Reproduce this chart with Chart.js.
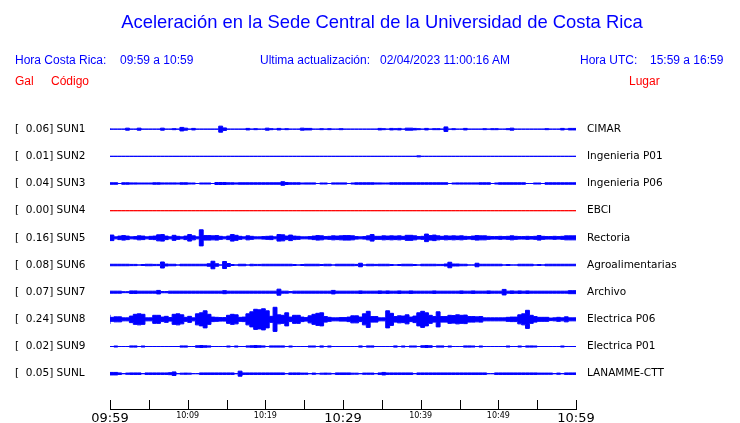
<!DOCTYPE html>
<html>
<head>
<meta charset="utf-8">
<script src="https://cdn.jsdelivr.net/npm/chart.js@4.4.0/dist/chart.umd.min.js"></script>
<style>
  html,body{margin:0;padding:0;background:#fff;width:740px;height:423px;overflow:hidden;}
  #wrap{position:relative;width:740px;height:423px;}
  canvas{position:absolute;left:0;top:0;}
  .t{position:absolute;font-family:"Liberation Sans",Arial,sans-serif;white-space:pre;line-height:1;}
  .blue{color:#0000ff;}
  .red{color:#ff0000;}
</style>
</head>
<body>
<div id="wrap">
  <canvas id="c" width="740" height="423"></canvas>
  <div class="t blue" style="left:0;width:764px;text-align:center;top:13px;font-size:18.4px;">Aceleración en la Sede Central de la Universidad de Costa Rica</div>
  <div class="t blue" style="left:15px;top:54px;font-size:12px;">Hora Costa Rica:</div>
  <div class="t blue" style="left:120px;top:54px;font-size:12px;">09:59 a 10:59</div>
  <div class="t blue" style="left:260px;top:54px;font-size:12px;">Ultima actualización:</div>
  <div class="t blue" style="left:380px;top:54px;font-size:12px;">02/04/2023 11:00:16 AM</div>
  <div class="t blue" style="left:580px;top:54px;font-size:12px;">Hora UTC:</div>
  <div class="t blue" style="left:650px;top:54px;font-size:12px;">15:59 a 16:59</div>
  <div class="t red" style="left:15px;top:75px;font-size:12px;">Gal</div>
  <div class="t red" style="left:51px;top:75px;font-size:12px;">Código</div>
  <div class="t red" style="left:629px;top:75px;font-size:12px;">Lugar</div>
</div>
<script>
// ---- data ----
const codes = ['SUN1','SUN2','SUN3','SUN4','SUN5','SUN6','SUN7','SUN8','SUN9','SUNL'];
const places = ['CIMAR','Ingenieria P01','Ingenieria P06','EBCI','Rectoria','Agroalimentarias','Archivo','Electrica P06','Electrica P01','LANAMME-CTT'];
const peaks = [0.06, 0.01, 0.04, 0.00, 0.16, 0.08, 0.07, 0.24, 0.02, 0.05]; // Gal
const timeLabels = ['09:59','10:09','10:19','10:29','10:39','10:49','10:59'];
const binMinutes = 0.5; // each envelope value covers half a minute

// amplitude envelopes (mGal), one value per half-minute bin, 09:59 -> 10:59
const sun1 = [15,0,0,0,0,20,0,0,20,0, 0,0,0,0,20,0,0,10,0,35, 20,0,15,0,0,0,0,0,0,60, 25,0,0,0,0,0,15,0,10,0,
              0,20,10,0,15,0,10,0,0,0, 20,15,15,0,0,10,0,10,0,0, 10,0,0,0,0,0,0,0,0,0, 15,10,0,15,10,15,0,20,20,15,
              10,0,15,0,10,10,0,45,0,10, 0,0,15,0,0,0,0,10,0,10, 10,0,0,10,20,0,0,0,0,0, 0,0,0,10,0,0,0,15,0,15];
const sun2 = [0,0,0,0,0,0,0,0,0,0, 0,0,0,0,0,0,0,0,0,0, 0,0,0,0,0,0,0,0,0,0, 0,0,0,0,0,0,0,0,0,0,
              0,0,0,0,0,0,0,0,0,0, 0,0,0,0,0,0,0,0,0,0, 0,0,0,0,0,0,0,0,0,0, 0,0,0,0,0,0,0,0,0,0,
              10,0,0,0,0,0,0,0,0,0, 0,0,0,0,0,0,0,0,0,0, 0,0,0,0,0,0,0,0,0,0, 0,0,0,0,0,0,0,0,0,0];
const sun3 = [15,15,15,0,15,15,12,12,10,10, 10,10,15,15,12,12,12,12,10,15, 15,10,10,0,10,10,10,0,20,20, 20,15,15,12,15,15,15,15,15,15,
              15,15,15,15,15,35,20,15,15,15, 10,12,12,12,0,10,10,0,12,12, 12,12,0,10,15,15,15,15,15,12, 12,10,10,15,15,15,15,15,15,15,
              15,15,15,15,15,15,15,15,0,10, 12,12,12,12,12,12,15,15,15,0, 10,15,15,15,15,15,15,15,0,0, 10,10,0,15,15,15,15,15,15,15];
const sun4 = [0,0,0,0,0,0,0,0,0,0, 0,0,0,0,0,0,0,0,0,0, 0,0,0,0,0,0,0,0,0,0, 0,0,0,0,0,0,0,0,0,0,
              0,0,0,0,0,0,0,0,0,0, 0,0,0,0,0,0,0,0,0,0, 0,0,0,0,0,0,0,0,0,0, 0,0,0,0,0,0,0,0,0,0,
              0,0,0,0,0,0,0,0,0,0, 0,0,0,0,0,0,0,0,0,0, 0,0,0,0,0,0,0,0,0,0, 0,0,0,0,0,0,0,0,0,0];
const sun5 = [40,55,20,35,45,35,20,25,40,35, 20,30,35,60,65,35,20,50,30,20, 35,65,40,20,160,45,45,40,45,30, 20,35,65,50,30,20,40,30,20,20,
              25,30,35,20,65,60,35,55,35,30, 20,20,25,35,45,40,25,30,40,35, 40,45,45,40,25,20,25,40,65,30, 30,40,35,40,35,40,30,50,50,40,
              25,30,75,45,55,40,30,40,35,40, 35,40,30,25,35,45,40,40,30,25, 25,30,25,30,40,30,25,25,30,25, 30,45,30,25,25,30,25,30,40,40];
const sun6 = [15,15,15,15,15,15,12,12,0,10, 15,15,12,12,60,20,15,15,0,15, 15,15,15,15,15,15,25,75,25,0, 70,30,10,0,15,15,0,15,12,12,
              15,15,15,15,15,15,15,15,10,0, 10,15,15,15,15,10,15,15,0,15, 15,15,15,15,12,35,0,15,15,12, 15,15,15,10,0,10,15,15,15,10,
              0,15,15,15,15,12,12,20,55,20, 20,15,15,0,0,35,15,15,15,15, 15,15,0,10,0,0,15,15,15,15, 0,10,0,15,15,15,15,15,15,15];
const sun7 = [20,20,20,20,10,10,25,25,20,20, 20,20,20,35,12,12,20,20,20,20, 20,20,20,20,20,20,20,20,20,20, 30,20,20,20,20,20,20,20,20,20,
              20,20,20,20,60,20,20,12,20,20, 20,20,20,20,20,20,20,20,35,20, 20,20,20,20,20,25,20,20,20,20, 25,20,25,20,20,25,20,20,25,20,
              20,20,20,20,25,20,20,20,20,20, 20,25,20,20,25,20,20,20,25,20, 20,20,55,20,25,20,25,20,25,20, 20,20,20,20,20,20,20,20,20,30];
const sun8 = [90,40,50,50,30,30,65,100,110,100, 30,30,80,80,45,60,35,100,110,90, 40,60,30,110,130,170,100,45,40,35, 35,80,100,90,40,45,110,150,200,190,
              210,170,60,240,90,80,130,45,80,80, 45,35,70,100,120,130,55,40,30,30, 35,35,45,70,70,45,110,160,55,55, 30,30,170,120,55,70,65,90,45,65,
              130,160,130,80,55,150,55,55,80,75, 90,80,85,55,55,50,55,30,30,30, 30,30,30,40,45,45,90,110,180,80, 55,40,40,40,25,30,40,30,50,30];
const sun9 = [0,0,10,0,0,0,12,12,0,10, 0,0,0,0,0,0,0,0,0,12, 12,0,0,15,20,15,12,0,0,0, 0,10,0,10,0,0,12,15,20,15,
              12,0,12,12,12,12,0,10,0,0, 0,0,10,10,0,12,0,10,0,0, 0,0,0,0,0,12,0,12,12,0, 0,0,0,0,12,0,10,0,10,10,
              0,15,20,15,0,12,12,0,10,0, 0,0,12,12,10,0,10,0,0,0, 0,0,0,10,0,0,10,0,12,12, 10,0,0,0,0,0,0,10,0,0];
const sunl = [25,25,25,15,0,12,15,15,15,0, 15,15,15,15,15,15,20,35,0,10, 12,10,0,0,15,15,15,15,15,15, 15,15,15,0,50,15,15,15,15,15,
              15,15,15,15,15,15,0,15,15,15, 12,12,0,12,0,10,12,10,0,15, 15,15,15,10,10,0,12,12,12,0, 15,25,15,15,15,15,15,15,15,0,
              15,15,15,15,15,15,15,15,15,15, 15,15,15,15,15,15,15,15,0,0, 15,15,15,15,15,15,15,15,15,15, 15,12,12,12,12,0,12,0,15,15];
const envelopes = [sun1, sun2, sun3, sun4, sun5, sun6, sun7, sun8, sun9, sunl];

// ---- styling ----
const traceColors = ['#0000ff','#0000ff','#0000ff','#ff0000','#0000ff','#0000ff','#0000ff','#0000ff','#0000ff','#0000ff'];
const GAIN = 1.85;      // rows per Gal
const Y_MAX = 11.3;     // scale extent below last row (axis line)

const datasets = [];
envelopes.forEach((env, i) => {
  const row = i + 1;
  const edge = (sign) => {
    const pts = env.map((a, j) => ({x: j * binMinutes, y: row + sign * (a / 1000) * GAIN}));
    pts.push({x: env.length * binMinutes, y: pts[pts.length - 1].y}); // close the last bin
    return pts;
  };
  const base = {borderColor: traceColors[i], backgroundColor: traceColors[i], borderWidth: 1,
                pointRadius: 0, stepped: 'after', tension: 0, xAxisID: 'x', yAxisID: 'y'};
  datasets.push(Object.assign({}, base, {data: edge(-1), fill: false}));
  datasets.push(Object.assign({}, base, {data: edge(1), fill: '-1'}));
});

const upTicks = {
  id: 'upTicks',
  afterDraw(chart) {
    const s = chart.scales.x, ctx = chart.ctx, b = chart.chartArea.bottom;
    ctx.save();
    ctx.strokeStyle = '#000';
    ctx.lineWidth = 1;
    ctx.beginPath();
    s.ticks.forEach(t => {
      const px = Math.round(s.getPixelForValue(t.value)) + 0.5;
      ctx.moveTo(px, b);
      ctx.lineTo(px, b - 9);
    });
    ctx.stroke();
    ctx.restore();
  }
};

const rowTicks = s => { s.ticks = codes.map((c, i) => ({value: i + 1})); };

new Chart(document.getElementById('c'), {
  type: 'line',
  data: {datasets},
  plugins: [upTicks],
  options: {
    responsive: false,
    animation: false,
    devicePixelRatio: 1,
    layout: {padding: {left: 15, top: 102, right: 0, bottom: 0}},
    plugins: {legend: {display: false}, tooltip: {enabled: false}, title: {display: false}},
    scales: {
      x: {
        type: 'linear', min: 0, max: 60, position: 'bottom',
        grid: {display: false, drawTicks: false},
        border: {display: true, color: '#000', width: 1},
        afterFit: s => { s.height = 14; },
        ticks: {
          stepSize: 5, autoSkip: false, maxRotation: 0, padding: 2, color: '#000',
          callback: v => (v % 10 === 0 ? timeLabels[v / 10] : ''),
          font: ctx => (ctx.tick && ctx.tick.value % 30 === 0)
            ? {family: 'DejaVu Sans', size: 13}
            : {family: 'DejaVu Sans', size: 8}
        }
      },
      y: {
        type: 'linear', position: 'left', min: 0, max: Y_MAX, reverse: true,
        grid: {display: false, drawTicks: false}, border: {display: false},
        afterBuildTicks: rowTicks,
        afterFit: s => { s.width = 95; s.paddingTop = 0; s.paddingBottom = 0; },
        ticks: {
          crossAlign: 'far', padding: 0, color: '#000',
          font: {family: 'DejaVu Sans', size: 10.5},
          callback: (v, i) => '[  ' + peaks[i].toFixed(2) + '] ' + codes[i]
        }
      },
      y2: {
        type: 'linear', position: 'right', min: 0, max: Y_MAX, reverse: true,
        grid: {display: false, drawTicks: false}, border: {display: false},
        afterBuildTicks: rowTicks,
        afterFit: s => { s.width = 164; s.paddingTop = 0; s.paddingBottom = 0; },
        ticks: {
          padding: 11, color: '#000',
          font: {family: 'DejaVu Sans', size: 10.5},
          callback: (v, i) => places[i]
        }
      }
    }
  }
});
</script>
</body>
</html>
